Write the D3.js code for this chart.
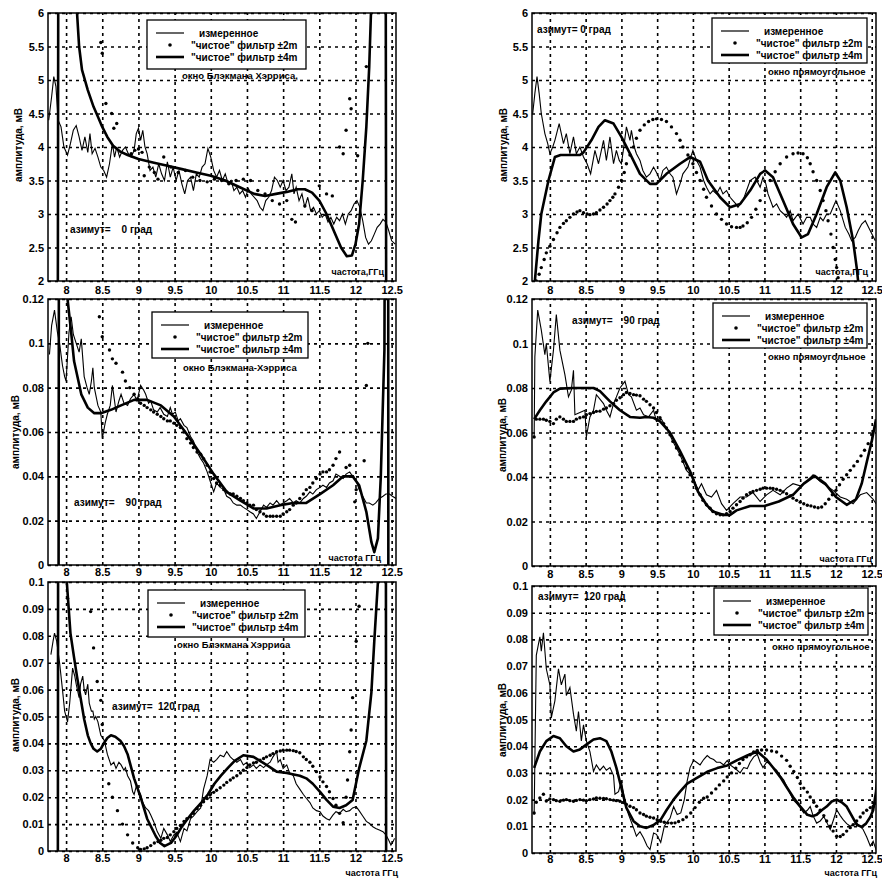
<!DOCTYPE html>
<html>
<head>
<meta charset="utf-8">
<script src="https://cdn.jsdelivr.net/npm/d3@7"></script>
<style>
  body { margin: 0; background: #fff; }
  text { font-family: "Liberation Sans", Arial, sans-serif; font-weight: bold; fill: #000; }
</style>
</head>
<body>
<svg id="chart" width="882" height="878"></svg>
<script>
// ---- axes ----
const freqDomain = [7.75, 12.56];
const xTicks = [8, 8.5, 9, 9.5, 10, 10.5, 11, 11.5, 12, 12.5];
const yTicksAz0 = [2, 2.5, 3, 3.5, 4, 4.5, 5, 5.5, 6];
const yTicksAz90 = [0, 0.02, 0.04, 0.06, 0.08, 0.1, 0.12];
const yTicksAz120 = [0, 0.01, 0.02, 0.03, 0.04, 0.05, 0.06, 0.07, 0.08, 0.09, 0.1];
const legendLabels = ['измеренное', '"чистое" фильтр ±2m', '"чистое" фильтр ±4m'];
const yTitle = 'амплитуда, мВ';

// ---- azimuth 0, Blackman-Harris window ----
const meas0bh = [[7.76,4.4],[7.80,4.75],[7.83,5.05],[7.86,4.9],[7.89,4.4],[7.93,4.3],[7.97,4.0],[8.02,3.88],[8.06,4.05],[8.10,4.25],[8.14,4.32],[8.18,4.15],[8.22,3.95],[8.26,4.15],[8.30,3.92],[8.33,4.2],[8.36,3.9],[8.40,3.98],[8.44,3.85],[8.48,3.7],[8.52,3.65],[8.56,3.55],[8.60,3.75],[8.64,4.05],[8.67,3.85],[8.70,4.0],[8.74,3.85],[8.78,3.95],[8.82,4.0],[8.86,3.9],[8.90,3.85],[8.94,3.95],[8.97,4.2],[9.00,4.28],[9.03,4.1],[9.06,4.25],[9.09,4.0],[9.12,3.9],[9.16,3.65],[9.20,3.7],[9.24,3.55],[9.28,3.75],[9.32,3.6],[9.36,3.5],[9.40,3.78],[9.44,3.55],[9.48,3.7],[9.52,3.5],[9.56,3.65],[9.60,3.45],[9.64,3.3],[9.68,3.5],[9.72,3.55],[9.76,3.35],[9.80,3.6],[9.84,3.55],[9.88,3.7],[9.92,3.75],[9.96,3.98],[10.00,3.85],[10.04,3.65],[10.08,3.55],[10.12,3.65],[10.16,3.5],[10.20,3.6],[10.24,3.45],[10.28,3.5],[10.32,3.35],[10.36,3.4],[10.40,3.3],[10.44,3.35],[10.48,3.25],[10.52,3.38],[10.56,3.3],[10.60,3.25],[10.64,3.2],[10.68,3.1],[10.72,3.05],[10.76,3.2],[10.80,3.25],[10.84,3.35],[10.88,3.55],[10.92,3.5],[10.96,3.4],[11.00,3.5],[11.04,3.35],[11.08,3.4],[11.12,3.6],[11.15,3.3],[11.18,3.4],[11.22,3.2],[11.26,3.3],[11.30,3.1],[11.34,3.25],[11.38,3.05],[11.42,3.1],[11.46,3.0],[11.50,3.05],[11.54,2.95],[11.58,3.0],[11.62,2.88],[11.66,2.95],[11.70,2.85],[11.74,2.95],[11.78,2.9],[11.82,3.0],[11.86,2.85],[11.90,3.0],[11.94,3.05],[11.98,3.15],[12.02,3.2],[12.06,3.1],[12.10,2.9],[12.14,2.65],[12.18,2.55],[12.22,2.6],[12.26,2.7],[12.30,2.8],[12.34,2.85],[12.38,2.92],[12.42,2.88],[12.46,2.75],[12.50,2.6],[12.55,2.55]];
const dots0bh = [[8.48,5.56],[8.50,5.4],[8.55,4.65],[8.63,4.5],[8.66,4.28],[8.70,4.35],[8.90,3.9],[8.95,3.95],[9.00,3.97],[9.05,3.92],[9.08,3.57],[9.15,3.7],[9.22,3.62],[9.27,3.52],[9.35,3.85],[9.45,3.7],[9.55,3.62],[9.65,3.65],[9.75,3.55],[9.85,3.5],[9.95,3.48],[10.05,3.52],[10.15,3.5],[10.25,3.45],[10.35,3.5],[10.45,3.52],[10.55,3.5],[10.65,3.35],[10.75,3.3],[10.85,3.2],[10.95,3.15],[11.05,3.2],[11.12,2.92],[11.17,2.88],[11.30,3.12],[11.40,3.05],[11.50,3.42],[11.60,3.3],[11.68,3.27],[11.78,4.0],[11.83,3.9],[11.87,4.25],[11.92,4.72],[11.94,4.57],[12.03,3.87],[12.15,5.2]];
const thick0bh = [[7.75,1.0],[7.885,1.0],[7.895,9],[8.10,9],[8.14,6.2],[8.18,5.5],[8.22,5.15],[8.30,4.85],[8.38,4.6],[8.44,4.45],[8.50,4.3],[8.57,4.15],[8.65,4.02],[8.75,3.93],[8.85,3.88],[9.00,3.82],[9.20,3.77],[9.40,3.72],[9.60,3.67],[9.80,3.62],[10.00,3.57],[10.20,3.5],[10.40,3.4],[10.60,3.3],[10.75,3.27],[10.90,3.3],[11.05,3.33],[11.20,3.37],[11.30,3.37],[11.40,3.32],[11.50,3.2],[11.60,3.0],[11.70,2.75],[11.80,2.5],[11.88,2.37],[11.95,2.38],[12.00,2.55],[12.05,2.85],[12.10,3.5],[12.15,4.3],[12.19,5.2],[12.22,6.2],[12.28,9],[12.415,9],[12.425,1.0],[12.56,1.0]];

// ---- azimuth 0, rectangular window ----
const meas0rect = [[7.76,4.5],[7.79,4.8],[7.82,5.05],[7.85,4.8],[7.88,4.5],[7.93,4.2],[7.97,4.05],[8.00,3.9],[8.04,4.0],[8.07,4.1],[8.13,4.35],[8.16,4.2],[8.19,4.05],[8.23,4.2],[8.28,3.9],[8.33,4.15],[8.37,3.9],[8.42,4.0],[8.47,3.85],[8.52,3.75],[8.57,3.6],[8.63,3.95],[8.68,3.75],[8.75,4.1],[8.79,3.8],[8.84,4.15],[8.89,3.75],[8.93,3.95],[8.97,3.8],[9.00,3.75],[9.04,4.05],[9.07,4.3],[9.12,4.1],[9.14,4.25],[9.18,4.0],[9.21,3.9],[9.26,3.8],[9.30,3.65],[9.35,3.55],[9.40,3.6],[9.45,3.7],[9.50,3.6],[9.54,3.5],[9.58,3.65],[9.63,3.7],[9.68,3.6],[9.72,3.55],[9.77,3.3],[9.82,3.45],[9.86,3.6],[9.93,3.7],[9.97,3.85],[10.00,3.95],[10.05,3.8],[10.10,3.7],[10.15,3.5],[10.19,3.4],[10.24,3.3],[10.28,3.35],[10.33,3.3],[10.38,3.4],[10.42,3.3],[10.47,3.35],[10.52,3.25],[10.56,3.2],[10.60,3.15],[10.63,3.1],[10.70,3.2],[10.75,3.35],[10.80,3.5],[10.87,3.55],[10.94,3.4],[10.98,3.55],[11.02,3.45],[11.05,3.3],[11.12,3.1],[11.17,3.15],[11.22,3.05],[11.27,3.0],[11.31,2.95],[11.36,3.05],[11.40,2.9],[11.47,3.0],[11.54,2.85],[11.59,2.95],[11.64,2.95],[11.68,2.85],[11.73,2.8],[11.78,2.95],[11.82,2.9],[11.87,3.0],[11.92,3.0],[11.96,3.1],[12.00,3.2],[12.06,3.05],[12.13,2.8],[12.18,2.7],[12.22,2.6],[12.27,2.65],[12.31,2.75],[12.36,2.85],[12.41,2.9],[12.48,2.75],[12.55,2.6]];
const dots0rect = [[7.81,2.0],[7.85,2.1],[7.88,2.2],[7.92,2.32],[7.95,2.42],[8.0,2.52],[8.05,2.62],[8.1,2.72],[8.14,2.8],[8.19,2.86],[8.23,2.9],[8.28,2.95],[8.33,3.0],[8.38,3.03],[8.42,3.05],[8.47,3.02],[8.52,3.0],[8.56,2.99],[8.61,3.0],[8.65,3.02],[8.7,3.06],[8.75,3.1],[8.8,3.15],[8.84,3.2],[8.88,3.25],[8.91,3.3],[8.96,3.4],[9.0,3.5],[9.04,3.62],[9.07,3.75],[9.12,3.88],[9.17,4.0],[9.21,4.13],[9.26,4.25],[9.32,4.33],[9.38,4.38],[9.44,4.41],[9.49,4.42],[9.56,4.41],[9.63,4.38],[9.7,4.3],[9.77,4.2],[9.82,4.1],[9.86,4.0],[9.93,3.88],[10.0,3.75],[10.05,3.62],[10.1,3.5],[10.15,3.37],[10.19,3.25],[10.26,3.12],[10.33,3.0],[10.4,2.92],[10.47,2.85],[10.54,2.81],[10.61,2.8],[10.66,2.8],[10.7,2.82],[10.76,2.87],[10.82,2.95],[10.88,3.07],[10.94,3.2],[11.01,3.35],[11.08,3.5],[11.15,3.63],[11.22,3.75],[11.31,3.85],[11.4,3.9],[11.47,3.91],[11.54,3.9],[11.6,3.84],[11.64,3.75],[11.68,3.63],[11.73,3.5],[11.78,3.35],[11.82,3.2],[11.86,3.05],[11.89,2.9],[11.93,2.7],[11.96,2.5],[11.99,2.32],[12.01,2.2],[12.03,2.05]];
const thick0rect = [[7.76,1.6],[7.79,2.0],[7.84,2.6],[7.88,3.0],[7.98,3.5],[8.07,3.85],[8.15,3.88],[8.23,3.88],[8.33,3.88],[8.42,3.88],[8.47,3.92],[8.58,4.1],[8.68,4.3],[8.77,4.4],[8.89,4.35],[9.0,4.15],[9.12,3.9],[9.26,3.6],[9.4,3.45],[9.49,3.45],[9.63,3.6],[9.82,3.75],[9.96,3.85],[10.1,3.78],[10.21,3.5],[10.38,3.25],[10.52,3.1],[10.66,3.15],[10.8,3.35],[10.94,3.6],[11.01,3.65],[11.12,3.55],[11.26,3.2],[11.4,2.85],[11.52,2.65],[11.61,2.7],[11.73,3.0],[11.87,3.4],[11.99,3.62],[12.06,3.5],[12.15,3.1],[12.24,2.6],[12.29,2.2],[12.31,2.0],[12.34,1.8]];

// ---- azimuth 90, Blackman-Harris window ----
const meas90bh = [[7.77,0.095],[7.80,0.108],[7.84,0.115],[7.88,0.105],[7.91,0.1],[7.95,0.09],[7.98,0.085],[8.00,0.083],[8.04,0.105],[8.07,0.112],[8.10,0.104],[8.14,0.1],[8.18,0.096],[8.21,0.102],[8.25,0.085],[8.29,0.08],[8.32,0.077],[8.35,0.083],[8.37,0.089],[8.39,0.08],[8.44,0.072],[8.48,0.069],[8.50,0.057],[8.54,0.064],[8.57,0.068],[8.61,0.072],[8.64,0.081],[8.67,0.074],[8.69,0.069],[8.73,0.074],[8.76,0.077],[8.80,0.073],[8.85,0.072],[8.89,0.075],[8.94,0.077],[8.98,0.074],[9.03,0.081],[9.07,0.079],[9.10,0.077],[9.14,0.073],[9.17,0.074],[9.21,0.07],[9.26,0.069],[9.30,0.071],[9.35,0.068],[9.40,0.067],[9.44,0.071],[9.47,0.068],[9.51,0.069],[9.55,0.065],[9.58,0.066],[9.63,0.063],[9.67,0.062],[9.72,0.058],[9.76,0.056],[9.81,0.051],[9.86,0.048],[9.90,0.046],[9.95,0.042],[10.00,0.037],[10.04,0.033],[10.08,0.037],[10.13,0.035],[10.18,0.034],[10.22,0.031],[10.27,0.03],[10.31,0.028],[10.36,0.027],[10.41,0.027],[10.45,0.026],[10.50,0.025],[10.54,0.024],[10.59,0.023],[10.63,0.021],[10.68,0.024],[10.73,0.027],[10.77,0.026],[10.82,0.028],[10.86,0.027],[10.91,0.029],[10.96,0.027],[11.00,0.028],[11.05,0.029],[11.09,0.03],[11.14,0.028],[11.18,0.029],[11.23,0.028],[11.28,0.03],[11.32,0.031],[11.37,0.033],[11.41,0.032],[11.46,0.034],[11.51,0.035],[11.55,0.036],[11.60,0.035],[11.64,0.037],[11.69,0.038],[11.73,0.041],[11.78,0.04],[11.83,0.039],[11.87,0.041],[11.92,0.042],[11.96,0.04],[12.01,0.038],[12.05,0.034],[12.10,0.031],[12.15,0.028],[12.19,0.028],[12.24,0.027],[12.28,0.028],[12.33,0.03],[12.38,0.031],[12.42,0.032],[12.47,0.032],[12.51,0.031],[12.56,0.03]];
const dots90bh = [[8.46,0.112],[8.5,0.103],[8.6,0.097],[8.64,0.093],[8.69,0.091],[8.78,0.087],[8.82,0.083],[8.88,0.08],[8.94,0.077],[8.99,0.075],[9.03,0.073],[9.08,0.072],[9.12,0.071],[9.17,0.07],[9.21,0.069],[9.26,0.068],[9.31,0.067],[9.35,0.066],[9.4,0.065],[9.44,0.065],[9.49,0.064],[9.53,0.063],[9.58,0.062],[9.63,0.06],[9.67,0.057],[9.72,0.055],[9.76,0.053],[9.81,0.051],[9.86,0.05],[9.9,0.048],[9.95,0.045],[9.99,0.042],[10.04,0.039],[10.08,0.037],[10.13,0.036],[10.18,0.034],[10.22,0.033],[10.27,0.032],[10.31,0.032],[10.36,0.031],[10.41,0.03],[10.45,0.029],[10.5,0.028],[10.54,0.027],[10.59,0.027],[10.63,0.025],[10.68,0.024],[10.73,0.023],[10.77,0.022],[10.82,0.022],[10.86,0.022],[10.91,0.022],[10.96,0.022],[11.0,0.023],[11.05,0.024],[11.09,0.025],[11.14,0.027],[11.18,0.028],[11.23,0.03],[11.28,0.032],[11.32,0.034],[11.37,0.035],[11.41,0.037],[11.46,0.039],[11.51,0.041],[11.55,0.042],[11.6,0.042],[11.64,0.043],[11.69,0.045],[11.73,0.048],[11.78,0.051],[11.87,0.044],[11.92,0.045],[11.96,0.04],[11.99,0.0285],[12.01,0.034],[12.12,0.047],[12.15,0.081],[12.17,0.1]];
const thick90bh = [[7.75,-0.05],[7.895,-0.05],[7.905,0.3],[7.99,0.3],[8.02,0.12],[8.07,0.105],[8.11,0.092],[8.21,0.077],[8.3,0.071],[8.39,0.0685],[8.48,0.0685],[8.62,0.07],[8.76,0.072],[8.94,0.0745],[9.12,0.0745],[9.31,0.072],[9.49,0.067],[9.67,0.059],[9.86,0.05],[10.04,0.041],[10.22,0.033],[10.41,0.029],[10.59,0.0255],[10.77,0.0255],[10.96,0.027],[11.14,0.028],[11.32,0.028],[11.51,0.032],[11.69,0.036],[11.83,0.04],[11.96,0.04],[12.05,0.036],[12.15,0.024],[12.22,0.0103],[12.26,0.0058],[12.31,0.012],[12.35,0.04],[12.4,0.097],[12.42,0.3],[12.45,0.3],[12.455,-0.05],[12.56,-0.05]];

// ---- azimuth 90, rectangular window ----
const meas90rect = [[7.78,0.058],[7.79,0.094],[7.83,0.115],[7.88,0.106],[7.93,0.095],[7.95,0.1],[8.0,0.083],[8.05,0.097],[8.09,0.113],[8.14,0.097],[8.21,0.086],[8.26,0.076],[8.3,0.079],[8.33,0.088],[8.35,0.068],[8.42,0.069],[8.49,0.07],[8.51,0.058],[8.56,0.067],[8.61,0.07],[8.65,0.077],[8.7,0.075],[8.75,0.073],[8.79,0.07],[8.84,0.067],[8.89,0.073],[8.93,0.076],[8.98,0.08],[9.05,0.083],[9.1,0.077],[9.14,0.076],[9.21,0.07],[9.26,0.071],[9.31,0.068],[9.38,0.067],[9.45,0.07],[9.49,0.065],[9.56,0.066],[9.63,0.062],[9.72,0.056],[9.82,0.05],[9.91,0.043],[10.0,0.04],[10.07,0.034],[10.12,0.037],[10.19,0.032],[10.26,0.031],[10.33,0.034],[10.4,0.028],[10.47,0.025],[10.56,0.028],[10.66,0.031],[10.75,0.031],[10.84,0.033],[10.94,0.029],[11.03,0.032],[11.12,0.034],[11.22,0.032],[11.31,0.035],[11.4,0.037],[11.5,0.036],[11.59,0.038],[11.68,0.041],[11.78,0.038],[11.87,0.036],[11.96,0.034],[12.06,0.031],[12.15,0.03],[12.24,0.028],[12.34,0.032],[12.43,0.033],[12.52,0.03],[12.56,0.028]];
const dots90rect = [[7.78,0.058],[7.81,0.066],[7.86,0.066],[7.91,0.066],[7.95,0.0655],[8.0,0.065],[8.05,0.064],[8.09,0.066],[8.14,0.067],[8.19,0.066],[8.23,0.065],[8.28,0.065],[8.33,0.065],[8.37,0.066],[8.42,0.0666],[8.47,0.067],[8.51,0.068],[8.56,0.0685],[8.61,0.069],[8.65,0.0695],[8.7,0.0696],[8.75,0.0705],[8.79,0.071],[8.84,0.072],[8.89,0.073],[8.93,0.0745],[8.98,0.0756],[9.03,0.077],[9.07,0.078],[9.12,0.0775],[9.17,0.077],[9.21,0.0768],[9.26,0.0765],[9.31,0.075],[9.35,0.074],[9.4,0.0725],[9.45,0.071],[9.49,0.069],[9.54,0.0666],[9.59,0.064],[9.63,0.062],[9.68,0.059],[9.72,0.056],[9.77,0.053],[9.82,0.05],[9.86,0.047],[9.91,0.044],[9.96,0.041],[10.0,0.038],[10.05,0.035],[10.1,0.032],[10.14,0.0295],[10.19,0.0275],[10.24,0.026],[10.28,0.0245],[10.33,0.0235],[10.38,0.023],[10.42,0.023],[10.47,0.0235],[10.52,0.0245],[10.56,0.026],[10.61,0.0275],[10.66,0.029],[10.7,0.0305],[10.75,0.032],[10.8,0.033],[10.84,0.0335],[10.89,0.034],[10.94,0.0345],[10.98,0.035],[11.03,0.035],[11.08,0.035],[11.12,0.0348],[11.17,0.0345],[11.22,0.034],[11.26,0.0333],[11.31,0.0325],[11.36,0.0315],[11.4,0.0305],[11.45,0.0295],[11.5,0.0287],[11.55,0.028],[11.6,0.0273],[11.65,0.027],[11.7,0.0265],[11.75,0.0262],[11.8,0.0265],[11.85,0.028],[11.9,0.03],[11.95,0.032],[12.0,0.034],[12.05,0.0365],[12.1,0.039],[12.15,0.041],[12.2,0.043],[12.25,0.045],[12.3,0.047],[12.35,0.0495],[12.4,0.052],[12.45,0.055],[12.5,0.059],[12.55,0.063]];
const thick90rect = [[7.78,0.066],[7.86,0.07],[7.95,0.074],[8.05,0.078],[8.14,0.0797],[8.33,0.08],[8.5,0.08],[8.61,0.08],[8.7,0.0786],[8.84,0.074],[8.98,0.07],[9.12,0.067],[9.26,0.0666],[9.35,0.067],[9.45,0.0666],[9.54,0.065],[9.68,0.06],[9.82,0.0516],[9.96,0.0426],[10.07,0.0335],[10.19,0.0275],[10.28,0.0245],[10.42,0.023],[10.52,0.023],[10.61,0.025],[10.8,0.027],[11.0,0.027],[11.2,0.029],[11.4,0.032],[11.55,0.037],[11.7,0.0405],[11.85,0.037],[12.0,0.031],[12.15,0.0275],[12.28,0.03],[12.36,0.037],[12.44,0.048],[12.5,0.056],[12.56,0.066]];

// ---- azimuth 120, Blackman-Harris window ----
const meas120bh = [[7.79,0.073],[7.82,0.078],[7.84,0.081],[7.87,0.078],[7.91,0.07],[7.95,0.06],[7.98,0.052],[8.02,0.048],[8.05,0.055],[8.09,0.068],[8.12,0.065],[8.14,0.062],[8.18,0.057],[8.2,0.062],[8.23,0.065],[8.25,0.06],[8.27,0.058],[8.3,0.062],[8.32,0.055],[8.35,0.052],[8.37,0.052],[8.39,0.049],[8.41,0.05],[8.44,0.048],[8.48,0.043],[8.53,0.041],[8.57,0.036],[8.62,0.032],[8.66,0.033],[8.69,0.0307],[8.73,0.033],[8.76,0.032],[8.8,0.03],[8.82,0.031],[8.85,0.028],[8.89,0.026],[8.92,0.022],[8.94,0.021],[8.97,0.024],[8.99,0.023],[9.03,0.021],[9.06,0.018],[9.1,0.016],[9.14,0.015],[9.17,0.0134],[9.21,0.011],[9.26,0.0072],[9.31,0.0047],[9.35,0.0084],[9.4,0.006],[9.44,0.0035],[9.49,0.006],[9.53,0.007],[9.58,0.0035],[9.63,0.0084],[9.67,0.0075],[9.72,0.012],[9.76,0.013],[9.81,0.0146],[9.86,0.016],[9.9,0.023],[9.95,0.028],[9.99,0.034],[10.04,0.033],[10.08,0.034],[10.13,0.0356],[10.18,0.035],[10.22,0.037],[10.27,0.035],[10.31,0.034],[10.36,0.033],[10.41,0.034],[10.45,0.032],[10.5,0.033],[10.54,0.031],[10.59,0.032],[10.63,0.0307],[10.68,0.032],[10.73,0.031],[10.77,0.032],[10.82,0.033],[10.86,0.035],[10.91,0.037],[10.93,0.033],[10.96,0.034],[11.0,0.0307],[11.05,0.032],[11.09,0.029],[11.14,0.028],[11.18,0.025],[11.23,0.023],[11.28,0.021],[11.32,0.0196],[11.37,0.018],[11.41,0.016],[11.46,0.015],[11.51,0.0146],[11.55,0.013],[11.6,0.012],[11.64,0.0115],[11.69,0.0134],[11.73,0.0146],[11.78,0.014],[11.83,0.0155],[11.87,0.0146],[11.92,0.015],[11.96,0.016],[12.01,0.0165],[12.05,0.015],[12.1,0.013],[12.15,0.011],[12.19,0.0103],[12.24,0.009],[12.28,0.0084],[12.33,0.0078],[12.38,0.0072],[12.42,0.006],[12.46,0.004],[12.49,0.0022],[12.52,0.0035],[12.54,0.0047]];
const dots120bh = [[8.02,0.094],[8.34,0.089],[8.38,0.0755],[8.43,0.063],[8.48,0.056],[8.5,0.047],[8.59,0.025],[8.64,0.02],[8.71,0.015],[8.78,0.01],[8.85,0.006],[8.92,0.003],[8.99,0.0012],[9.03,0.0006],[9.08,0.0008],[9.12,0.0012],[9.17,0.002],[9.22,0.003],[9.27,0.0035],[9.31,0.004],[9.35,0.0047],[9.4,0.005],[9.44,0.006],[9.49,0.0072],[9.53,0.0084],[9.58,0.0095],[9.63,0.011],[9.67,0.012],[9.72,0.0127],[9.76,0.014],[9.81,0.0158],[9.86,0.017],[9.9,0.0183],[9.95,0.0195],[9.99,0.0208],[10.04,0.0218],[10.08,0.0226],[10.13,0.0235],[10.18,0.0245],[10.22,0.0255],[10.27,0.0264],[10.31,0.0272],[10.36,0.028],[10.41,0.029],[10.45,0.03],[10.5,0.031],[10.54,0.032],[10.59,0.0327],[10.63,0.033],[10.68,0.0338],[10.73,0.0344],[10.77,0.035],[10.82,0.0356],[10.86,0.0362],[10.91,0.0369],[10.96,0.0372],[11.0,0.0375],[11.05,0.0375],[11.09,0.0375],[11.14,0.0373],[11.18,0.037],[11.23,0.0365],[11.28,0.035],[11.32,0.034],[11.37,0.033],[11.41,0.0315],[11.46,0.0295],[11.51,0.0275],[11.55,0.0257],[11.6,0.024],[11.64,0.022],[11.69,0.0195],[11.73,0.017],[11.78,0.014],[11.83,0.0105],[11.87,0.02],[11.89,0.0264],[11.92,0.0369],[11.94,0.045],[11.96,0.057],[12.01,0.078],[12.05,0.091]];
const thick120bh = [[7.75,-0.05],[7.885,-0.05],[7.895,0.3],[7.99,0.3],[8.01,0.1],[8.06,0.081],[8.11,0.072],[8.15,0.065],[8.2,0.057],[8.25,0.049],[8.3,0.043],[8.34,0.04],[8.38,0.038],[8.43,0.037],[8.48,0.038],[8.52,0.04],[8.57,0.042],[8.62,0.043],[8.68,0.0425],[8.75,0.041],[8.8,0.039],[8.85,0.036],[8.9,0.031],[8.94,0.027],[9.03,0.02],[9.12,0.012],[9.24,0.0055],[9.3,0.003],[9.36,0.0018],[9.45,0.003],[9.52,0.0055],[9.59,0.0086],[9.68,0.012],[9.77,0.015],[9.87,0.018],[9.96,0.021],[10.05,0.025],[10.14,0.028],[10.24,0.031],[10.33,0.0335],[10.45,0.0356],[10.59,0.035],[10.77,0.032],[10.91,0.0295],[11.05,0.029],[11.23,0.028],[11.32,0.027],[11.41,0.025],[11.51,0.022],[11.6,0.019],[11.69,0.0165],[11.78,0.016],[11.87,0.017],[11.96,0.019],[12.05,0.0307],[12.15,0.041],[12.22,0.059],[12.26,0.078],[12.31,0.1],[12.33,0.3],[12.415,0.3],[12.425,-0.05],[12.56,-0.05]];

// ---- azimuth 120, rectangular window ----
const meas120rect = [[7.78,0.0144],[7.81,0.074],[7.86,0.081],[7.88,0.0756],[7.91,0.0825],[7.95,0.069],[8.0,0.063],[8.02,0.0506],[8.07,0.057],[8.12,0.069],[8.16,0.063],[8.21,0.067],[8.23,0.059],[8.28,0.062],[8.33,0.052],[8.37,0.0456],[8.4,0.053],[8.44,0.042],[8.47,0.048],[8.51,0.042],[8.56,0.038],[8.61,0.0306],[8.65,0.033],[8.7,0.031],[8.75,0.0325],[8.79,0.031],[8.84,0.032],[8.89,0.029],[8.91,0.022],[8.96,0.023],[9.0,0.027],[9.05,0.019],[9.1,0.0144],[9.17,0.0094],[9.21,0.0063],[9.26,0.008],[9.31,0.0056],[9.36,0.0026],[9.4,0.0013],[9.45,0.0075],[9.49,0.007],[9.55,0.004],[9.6,0.01],[9.65,0.012],[9.68,0.013],[9.73,0.0174],[9.78,0.0144],[9.83,0.015],[9.88,0.02],[9.92,0.027],[9.96,0.032],[10.01,0.0347],[10.05,0.034],[10.1,0.033],[10.15,0.035],[10.2,0.0365],[10.24,0.0356],[10.29,0.035],[10.33,0.034],[10.38,0.034],[10.43,0.033],[10.48,0.0347],[10.52,0.033],[10.57,0.032],[10.62,0.031],[10.66,0.03],[10.71,0.032],[10.76,0.0316],[10.8,0.034],[10.85,0.036],[10.9,0.037],[10.94,0.034],[10.98,0.032],[11.03,0.034],[11.08,0.0335],[11.12,0.032],[11.17,0.031],[11.22,0.029],[11.27,0.0273],[11.31,0.025],[11.36,0.0223],[11.4,0.02],[11.45,0.0186],[11.5,0.017],[11.55,0.015],[11.6,0.016],[11.64,0.0174],[11.68,0.014],[11.73,0.0112],[11.78,0.012],[11.83,0.0137],[11.88,0.011],[11.92,0.0088],[11.96,0.012],[12.01,0.0162],[12.06,0.014],[12.1,0.0125],[12.15,0.011],[12.2,0.01],[12.24,0.0106],[12.29,0.0112],[12.34,0.01],[12.38,0.0088],[12.43,0.006],[12.48,0.0026],[12.52,0.0044],[12.57,0.0006]];
const dots120rect = [[7.78,0.015],[7.81,0.019],[7.86,0.0206],[7.91,0.022],[7.95,0.0195],[8.0,0.0202],[8.05,0.02],[8.09,0.0196],[8.14,0.0194],[8.19,0.0198],[8.23,0.02],[8.28,0.0196],[8.33,0.0194],[8.37,0.0197],[8.42,0.02],[8.47,0.0198],[8.51,0.0196],[8.56,0.02],[8.61,0.0202],[8.65,0.0206],[8.7,0.0205],[8.75,0.0204],[8.79,0.0203],[8.84,0.02],[8.89,0.0198],[8.93,0.0196],[8.98,0.0194],[9.03,0.0189],[9.07,0.0182],[9.12,0.0175],[9.17,0.017],[9.21,0.0162],[9.26,0.015],[9.31,0.0144],[9.35,0.0138],[9.4,0.0134],[9.45,0.0131],[9.5,0.0125],[9.55,0.0119],[9.6,0.0115],[9.65,0.0113],[9.7,0.0112],[9.75,0.0113],[9.8,0.0118],[9.86,0.0125],[9.91,0.0135],[9.97,0.015],[10.03,0.017],[10.09,0.019],[10.15,0.0205],[10.2,0.021],[10.26,0.0225],[10.32,0.024],[10.37,0.0255],[10.43,0.027],[10.48,0.0285],[10.54,0.03],[10.6,0.0318],[10.65,0.0335],[10.7,0.035],[10.75,0.036],[10.8,0.0368],[10.85,0.0378],[10.9,0.0384],[10.96,0.0386],[11.03,0.0386],[11.1,0.0382],[11.17,0.0378],[11.24,0.0363],[11.31,0.0347],[11.36,0.0325],[11.41,0.0305],[11.46,0.0283],[11.5,0.026],[11.55,0.0243],[11.6,0.0228],[11.64,0.021],[11.69,0.019],[11.73,0.0175],[11.78,0.016],[11.83,0.014],[11.87,0.012],[11.92,0.01],[11.96,0.0082],[12.01,0.0063],[12.06,0.0062],[12.1,0.0069],[12.15,0.0082],[12.2,0.0095],[12.24,0.0106],[12.29,0.012],[12.34,0.0135],[12.38,0.015],[12.43,0.016],[12.48,0.017],[12.52,0.0174],[12.56,0.0186]];
const thick120rect = [[7.78,0.0319],[7.86,0.038],[7.95,0.0419],[8.05,0.0438],[8.14,0.043],[8.23,0.04],[8.33,0.038],[8.42,0.0388],[8.51,0.0406],[8.61,0.0425],[8.7,0.043],[8.79,0.0419],[8.86,0.038],[8.93,0.0319],[9.0,0.0244],[9.07,0.0169],[9.17,0.0119],[9.26,0.01],[9.35,0.0094],[9.45,0.0105],[9.55,0.0125],[9.63,0.016],[9.73,0.02],[9.82,0.023],[9.92,0.026],[10.05,0.028],[10.2,0.0304],[10.34,0.0318],[10.48,0.0328],[10.62,0.0348],[10.76,0.0365],[10.9,0.038],[11.03,0.035],[11.12,0.032],[11.22,0.0285],[11.31,0.0247],[11.4,0.021],[11.5,0.0175],[11.6,0.0143],[11.67,0.0138],[11.73,0.0143],[11.8,0.016],[11.87,0.0174],[11.94,0.0193],[12.01,0.02],[12.08,0.019],[12.15,0.0174],[12.22,0.014],[12.29,0.0106],[12.36,0.0098],[12.42,0.011],[12.48,0.0135],[12.52,0.016],[12.56,0.023],[12.58,0.0285]];

// ---- layout of the six panels ----
const panels = [
  { x0: 48, x1: 396, y0: 13, y1: 281, yDomain: [2, 6], yTicks: yTicksAz0, xPad: 5,
    meas: meas0bh, dots: dots0bh, thick: thick0bh,
    legend: [147, 20, 159, 49], win: 'окно Блэкмана Хэрриса,', winPos: [182, 79],
    az: 'азимут=    0 град', azPos: [70, 233], freq: 'частота,ГГц', freqPos: [384, 275], yTitlePos: [18, 145] },
  { x0: 532, x1: 876, y0: 13, y1: 281, yDomain: [2, 6], yTicks: yTicksAz0, xPad: 5,
    meas: meas0rect, dots: dots0rect, thick: thick0rect,
    legend: [712, 18, 155, 45], win: 'окно прямоугольное', winPos: [768, 75],
    az: 'азимут= 0 град', azPos: [537, 33], freq: 'частота,ГГц', freqPos: [868, 275], yTitlePos: [503, 145] },
  { x0: 48, x1: 396, y0: 299, y1: 565, yDomain: [0, 0.12], yTicks: yTicksAz90, xPad: 3,
    meas: meas90bh, dots: dots90bh, thick: thick90bh,
    legend: [152, 312, 156, 46], win: 'окно Блэкмана-Хэрриса', winPos: [183, 371],
    az: 'азимут=    90 град', azPos: [74, 506], freq: 'частота ГГц', freqPos: [381, 561], yTitlePos: [15, 432] },
  { x0: 532, x1: 876, y0: 299, y1: 566, yDomain: [0, 0.12], yTicks: yTicksAz90, xPad: 4,
    meas: meas90rect, dots: dots90rect, thick: thick90rect,
    legend: [713, 303, 154, 45], win: 'окно прямоугольное', winPos: [768, 360],
    az: 'азимут=    90 град', azPos: [572, 324], freq: 'частота ГГц', freqPos: [872, 562], yTitlePos: [502, 435] },
  { x0: 48, x1: 396, y0: 582, y1: 851, yDomain: [0, 0.1], yTicks: yTicksAz120, xPad: 3,
    meas: meas120bh, dots: dots120bh, thick: thick120bh,
    legend: [148, 590, 157, 47], win: 'окно Блэкмана Хэрриса', winPos: [177, 648],
    az: 'азимут=  120 град', azPos: [112, 710], freq: 'частота ГГц', freqPos: [398, 876], yTitlePos: [15, 715] },
  { x0: 532, x1: 876, y0: 586, y1: 853, yDomain: [0, 0.1], yTicks: yTicksAz120, xPad: 2,
    meas: meas120rect, dots: dots120rect, thick: thick120rect,
    legend: [714, 588, 154, 47], win: 'окно прямоугольное', winPos: [772, 650],
    az: 'азимут=  120 град', azPos: [538, 600], freq: 'частота ГГц', freqPos: [877, 876], yTitlePos: [502, 720] }
];

const svg = d3.select('#chart');
svg.append('rect').attr('width', 882).attr('height', 878).attr('fill', '#fff');
const fmt = d => String(+d.toFixed(3));

panels.forEach(drawPanel);

function drawPanel(p, i) {
  const x = d3.scaleLinear().domain(freqDomain).range([p.x0, p.x1]);
  const y = d3.scaleLinear().domain(p.yDomain).range([p.y1, p.y0]);
  const w = p.x1 - p.x0, h = p.y1 - p.y0;
  const g = svg.append('g');

  g.append('clipPath').attr('id', 'clip' + i)
    .append('rect').attr('x', p.x0).attr('y', p.y0).attr('width', w).attr('height', h);

  // dotted grid and tick labels from the axes
  const gx = g.append('g').attr('transform', `translate(0,${p.y1})`)
    .call(d3.axisBottom(x).tickValues(xTicks).tickSize(-h).tickPadding(p.xPad).tickFormat(fmt));
  const gy = g.append('g').attr('transform', `translate(${p.x0},0)`)
    .call(d3.axisLeft(y).tickValues(p.yTicks).tickSize(-w).tickPadding(4).tickFormat(fmt));
  [gx, gy].forEach(a => {
    a.attr('font-size', 11);
    a.select('.domain').remove();
    a.selectAll('.tick line')
      .attr('stroke', '#000').attr('stroke-width', 1.6).attr('stroke-dasharray', '3,4');
  });

  const plot = g.append('g').attr('clip-path', `url(#clip${i})`);
  const line = d3.line().x(d => x(d[0])).y(d => y(d[1]));

  plot.append('path').datum(p.meas).attr('d', line)
    .attr('fill', 'none').attr('stroke', '#000').attr('stroke-width', 1.1);
  plot.append('path').datum(p.thick).attr('d', line)
    .attr('fill', 'none').attr('stroke', '#000').attr('stroke-width', 2.6).attr('stroke-linejoin', 'round');
  plot.selectAll('circle').data(p.dots).join('circle')
    .attr('cx', d => x(d[0])).attr('cy', d => y(d[1])).attr('r', 1.7).attr('fill', '#000');

  g.append('rect').attr('x', p.x0).attr('y', p.y0).attr('width', w).attr('height', h)
    .attr('fill', 'none').attr('stroke', '#000').attr('stroke-width', 1.5);

  // legend
  const [lx, ly, lw, lh] = p.legend;
  const lg = g.append('g').attr('transform', `translate(${lx},${ly})`);
  lg.append('rect').attr('width', lw).attr('height', lh)
    .attr('fill', '#fff').attr('stroke', '#000').attr('stroke-width', 1.3);
  legendLabels.forEach((label, k) => {
    const yy = 13 + k * 12;
    if (k === 1) {
      lg.append('circle').attr('cx', 23).attr('cy', yy).attr('r', 1.8).attr('fill', '#000');
    } else {
      lg.append('line').attr('x1', 9).attr('x2', 37).attr('y1', yy).attr('y2', yy)
        .attr('stroke', '#000').attr('stroke-width', k === 2 ? 2.6 : 1.2);
    }
    lg.append('text').attr('x', k === 0 ? 52 : 44).attr('y', yy).attr('dy', '0.35em')
      .attr('font-size', 10).text(label);
  });

  g.append('text').attr('x', p.winPos[0]).attr('y', p.winPos[1])
    .attr('font-size', 9.5).text(p.win);
  g.append('text').attr('x', p.azPos[0]).attr('y', p.azPos[1])
    .attr('font-size', 10).style('white-space', 'pre').text(p.az);
  g.append('text').attr('x', p.freqPos[0]).attr('y', p.freqPos[1])
    .attr('text-anchor', 'end').attr('font-size', 9).text(p.freq);
  g.append('text')
    .attr('transform', `translate(${p.yTitlePos[0]},${p.yTitlePos[1]}) rotate(-90)`)
    .attr('text-anchor', 'middle').attr('dy', '0.35em').attr('font-size', 10).text(yTitle);
}
</script>
</body>
</html>
